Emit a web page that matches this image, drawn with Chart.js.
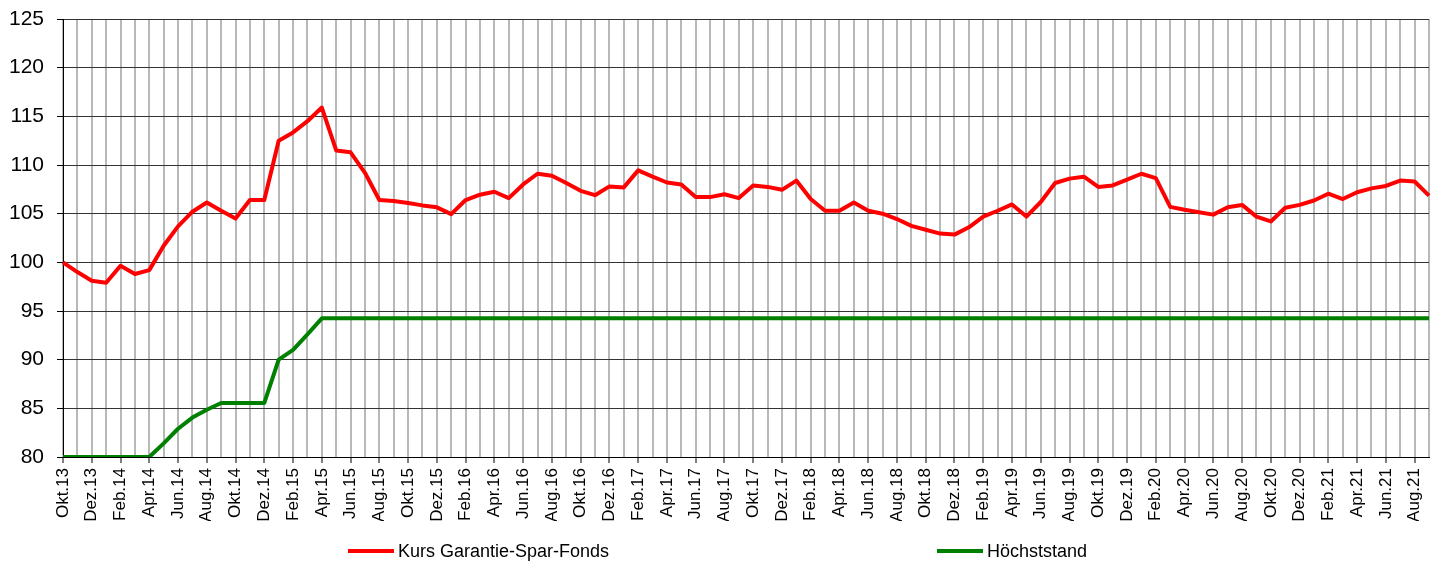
<!DOCTYPE html>
<html>
<head>
<meta charset="utf-8">
<script src="https://cdn.jsdelivr.net/npm/chart.js@4/dist/chart.umd.min.js"></script>
<style>
	body { margin: 0; background: #fff; }
	#wrap { position: relative; width: 1438px; height: 561px; }
	.legend-item {
		position: absolute;
		top: 541px;
		height: 20px;
		display: flex;
		align-items: center;
		font: 18px "Liberation Sans", Arial, sans-serif;
		color: #000;
		white-space: nowrap;
	}
	.legend-line { width: 46px; height: 4px; margin-right: 4px; }
</style>
</head>
<body>
<div id="wrap">
	<canvas id="kursChart"></canvas>
	<div class="legend-item" style="left: 348px;"><span class="legend-line" style="background: #ff0000;"></span>Kurs Garantie-Spar-Fonds</div>
	<div class="legend-item" style="left: 937px;"><span class="legend-line" style="background: #008000;"></span>Höchststand</div>
</div>
<script>
// Monate Okt.13 bis Sep.21
const months = [
	"Okt.13", "Nov.13", "Dez.13",
	"Jan.14", "Feb.14", "Mrz.14", "Apr.14", "Mai.14", "Jun.14", "Jul.14", "Aug.14", "Sep.14", "Okt.14", "Nov.14", "Dez.14",
	"Jan.15", "Feb.15", "Mrz.15", "Apr.15", "Mai.15", "Jun.15", "Jul.15", "Aug.15", "Sep.15", "Okt.15", "Nov.15", "Dez.15",
	"Jan.16", "Feb.16", "Mrz.16", "Apr.16", "Mai.16", "Jun.16", "Jul.16", "Aug.16", "Sep.16", "Okt.16", "Nov.16", "Dez.16",
	"Jan.17", "Feb.17", "Mrz.17", "Apr.17", "Mai.17", "Jun.17", "Jul.17", "Aug.17", "Sep.17", "Okt.17", "Nov.17", "Dez.17",
	"Jan.18", "Feb.18", "Mrz.18", "Apr.18", "Mai.18", "Jun.18", "Jul.18", "Aug.18", "Sep.18", "Okt.18", "Nov.18", "Dez.18",
	"Jan.19", "Feb.19", "Mrz.19", "Apr.19", "Mai.19", "Jun.19", "Jul.19", "Aug.19", "Sep.19", "Okt.19", "Nov.19", "Dez.19",
	"Jan.20", "Feb.20", "Mrz.20", "Apr.20", "Mai.20", "Jun.20", "Jul.20", "Aug.20", "Sep.20", "Okt.20", "Nov.20", "Dez.20",
	"Jan.21", "Feb.21", "Mrz.21", "Apr.21", "Mai.21", "Jun.21", "Jul.21", "Aug.21", "Sep.21",
];

const kurs = [
	100.0, 99.0, 98.1,
	97.9, 99.65, 98.8, 99.2, 101.7, 103.7, 105.2, 106.15, 105.3, 104.5, 106.4, 106.4,
	112.5, 113.35, 114.5, 115.9, 111.5, 111.3, 109.2, 106.4, 106.3, 106.1, 105.85, 105.65,
	104.95, 106.4, 106.95, 107.25, 106.6, 108.0, 109.1, 108.9, 108.15, 107.35, 106.9, 107.8,
	107.7, 109.45, 108.8, 108.2, 108.0, 106.7, 106.7, 107.0, 106.6, 107.9, 107.75, 107.45,
	108.4, 106.5, 105.3, 105.3, 106.15, 105.3, 105.0, 104.45, 103.75, 103.35, 102.95, 102.85,
	103.6, 104.7, 105.3, 105.95, 104.7, 106.2, 108.15, 108.6, 108.8, 107.75, 107.9, 108.5,
	109.1, 108.65, 105.7, 105.4, 105.15, 104.9, 105.65, 105.9, 104.7, 104.2, 105.6, 105.9,
	106.35, 107.05, 106.5, 107.2, 107.6, 107.85, 108.4, 108.3, 106.85,
];

const hoechststand = [
	80, 80, 80,
	80, 80, 80, 80, 81.4, 82.9, 84.05, 84.85, 85.55, 85.55, 85.55, 85.55,
	90.0, 91.0, 92.6, 94.25, 94.25, 94.25, 94.25, 94.25, 94.25, 94.25, 94.25, 94.25,
	94.25, 94.25, 94.25, 94.25, 94.25, 94.25, 94.25, 94.25, 94.25, 94.25, 94.25, 94.25,
	94.25, 94.25, 94.25, 94.25, 94.25, 94.25, 94.25, 94.25, 94.25, 94.25, 94.25, 94.25,
	94.25, 94.25, 94.25, 94.25, 94.25, 94.25, 94.25, 94.25, 94.25, 94.25, 94.25, 94.25,
	94.25, 94.25, 94.25, 94.25, 94.25, 94.25, 94.25, 94.25, 94.25, 94.25, 94.25, 94.25,
	94.25, 94.25, 94.25, 94.25, 94.25, 94.25, 94.25, 94.25, 94.25, 94.25, 94.25, 94.25,
	94.25, 94.25, 94.25, 94.25, 94.25, 94.25, 94.25, 94.25, 94.25,
];

const yMin = 80;
const yMax = 125;
const yStep = 5;

Chart.defaults.font.family = "'Liberation Sans', Arial, sans-serif";
Chart.defaults.color = "#000";

function createDataset(label, data, color) {
	return {
		label: label,
		data: data,
		borderColor: color,
		backgroundColor: color,
		borderWidth: 4,
		pointRadius: 0,
		pointHoverRadius: 0,
		tension: 0,
		borderJoinStyle: "round",
		borderCapStyle: "butt",
	};
}

const ctx = document.getElementById("kursChart").getContext("2d");

new Chart(ctx, {
	type: "line",
	data: {
		labels: months,
		datasets: [
			createDataset("Kurs Garantie-Spar-Fonds", kurs, "#ff0000"),
			createDataset("Höchststand", hoechststand, "#008000"),
		],
	},
	options: {
		responsive: true,
		maintainAspectRatio: false,
		animation: false,
		layout: {
			padding: { top: 19, right: 9, bottom: 40, left: 0 },
		},
		plugins: {
			legend: { display: false },
			tooltip: { enabled: false },
		},
		scales: {
			x: {
				offset: false,
				afterFit: (scale) => {
					scale.height = 64;
					scale.paddingLeft = 0;
					scale.paddingRight = 0;
				},
				grid: {
					color: "#b8b8b8",
					lineWidth: 2,
					tickLength: 6,
					tickWidth: 1,
					tickColor: (c) => (c.index % 2 === 0 ? "#000" : "rgba(0,0,0,0)"),
				},
				border: { color: "#000", width: 1 },
				ticks: {
					autoSkip: false,
					minRotation: 90,
					maxRotation: 90,
					padding: 5,
					font: { size: 17 },
					callback: function (value, index) {
						return index % 2 === 0 ? months[index] : "";
					},
				},
			},
			y: {
				min: yMin,
				max: yMax,
				afterFit: (scale) => {
					scale.width = 63;
					scale.paddingTop = 0;
					scale.paddingBottom = 0;
				},
				grid: {
					color: "#333",
					lineWidth: 1,
					tickLength: 6,
					tickColor: "#000",
				},
				border: { color: "#000", width: 1 },
				ticks: {
					stepSize: yStep,
					padding: 13,
					font: { size: 21 },
				},
			},
		},
	},
});
</script>
</body>
</html>
